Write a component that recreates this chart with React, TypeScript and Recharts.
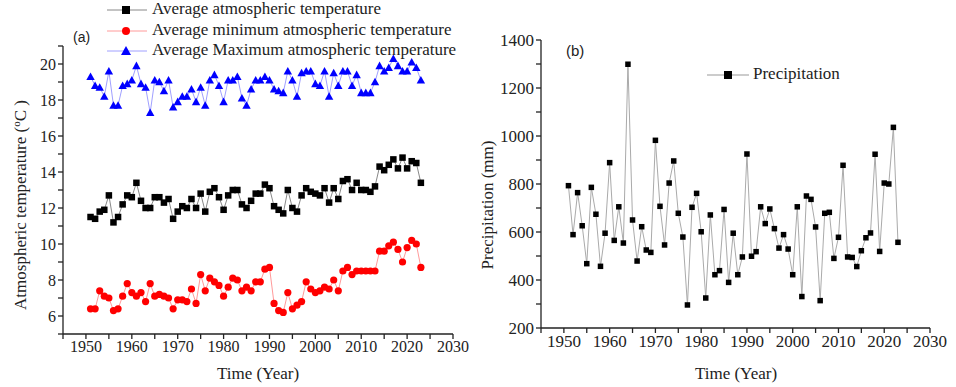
import { LineChart, Line, XAxis, YAxis, Legend, Label } from "recharts";

const YEARS = [
  1951, 1952, 1953, 1954, 1955, 1956, 1957, 1958, 1959, 1960,
  1961, 1962, 1963, 1964, 1965, 1966, 1967, 1968, 1969, 1970,
  1971, 1972, 1973, 1974, 1975, 1976, 1977, 1978, 1979, 1980,
  1981, 1982, 1983, 1984, 1985, 1986, 1987, 1988, 1989, 1990,
  1991, 1992, 1993, 1994, 1995, 1996, 1997, 1998, 1999, 2000,
  2001, 2002, 2003, 2004, 2005, 2006, 2007, 2008, 2009, 2010,
  2011, 2012, 2013, 2014, 2015, 2016, 2017, 2018, 2019, 2020,
  2021, 2022, 2023,
];

const AVG_TEMP = [
  11.5, 11.4, 11.8, 11.9, 12.7, 11.2, 11.5, 12.2, 12.7, 12.6,
  13.4, 12.4, 12.0, 12.0, 12.6, 12.6, 12.3, 12.5, 11.4, 11.8,
  12.1, 12.0, 12.5, 12.0, 12.8, 11.8, 12.9, 13.1, 12.6, 11.9,
  12.7, 13.0, 13.0, 12.2, 12.0, 12.4, 12.8, 12.8, 13.3, 13.1,
  12.1, 11.9, 11.7, 13.0, 12.0, 11.8, 12.7, 13.1, 12.9, 12.8,
  12.7, 13.1, 12.3, 13.1, 12.5, 13.5, 13.6, 13.0, 13.4, 13.0,
  13.0, 12.9, 13.2, 14.3, 14.1, 14.4, 14.7, 14.2, 14.8, 14.2,
  14.6, 14.5, 13.4,
];

const MIN_TEMP = [
  6.4, 6.4, 7.4, 7.1, 7.0, 6.3, 6.4, 7.1, 7.8, 7.3,
  7.1, 7.3, 6.8, 7.8, 7.1, 7.2, 7.1, 7.0, 6.4, 6.9,
  6.9, 6.8, 7.5, 6.7, 8.3, 7.4, 8.1, 7.9, 7.7, 7.1,
  7.6, 8.1, 8.0, 7.4, 7.6, 7.4, 7.9, 7.9, 8.6, 8.7,
  6.7, 6.3, 6.2, 7.3, 6.4, 6.6, 6.8, 7.9, 7.5, 7.3,
  7.4, 7.6, 7.5, 8.0, 7.4, 8.5, 8.7, 8.3, 8.5, 8.5,
  8.5, 8.5, 8.5, 9.6, 9.6, 9.9, 10.1, 9.7, 9.0, 9.8,
  10.2, 10.0, 8.7,
];

const MAX_TEMP = [
  19.3, 18.8, 18.7, 18.2, 19.6, 17.7, 17.7, 18.8, 18.9, 19.1,
  19.9, 18.9, 18.7, 17.3, 19.1, 19.0, 18.5, 19.1, 17.6, 17.9,
  18.2, 18.2, 18.6, 17.9, 18.7, 17.7, 19.1, 19.4, 18.8, 17.9,
  19.1, 19.1, 19.3, 18.1, 17.7, 18.6, 19.1, 19.1, 19.3, 19.1,
  18.6, 18.5, 18.4, 19.6, 19.1, 18.2, 19.5, 19.6, 19.6, 18.9,
  18.8, 19.6, 18.2, 19.5, 18.8, 19.6, 19.6, 18.8, 19.4, 18.4,
  18.4, 18.4, 19.0, 19.9, 19.6, 19.8, 20.3, 19.9, 19.6, 19.6,
  20.1, 19.8, 19.1,
];

const PRECIP = [
  793, 589, 764, 626, 468, 786, 674, 457, 595, 889,
  565, 705, 554, 1299, 650, 479, 622, 525, 515, 982,
  707, 546, 804, 896, 678, 579, 296, 703, 761, 601,
  325, 671, 422, 439, 694, 390, 595, 422, 496, 925,
  499, 518, 705, 635, 696, 614, 533, 589, 529, 422,
  705, 331, 750, 736, 621, 314, 678, 682, 490, 578,
  878, 496, 494, 456, 522, 576, 596, 924, 519, 804,
  800, 1036, 557,
];

const YEAR_TICKS = [1945, 1950, 1955, 1960, 1965, 1970, 1975, 1980, 1985, 1990, 1995, 2000, 2005, 2010, 2015, 2020, 2025, 2030];
const TEMP_TICKS = [5, 6, 7, 8, 9, 10, 11, 12, 13, 14, 15, 16, 17, 18, 19, 20, 21];
const PRECIP_TICKS = [200, 300, 400, 500, 600, 700, 800, 900, 1000, 1100, 1200, 1300, 1400];

const LABEL_AVG = "Average atmospheric temperature";
const LABEL_MIN = "Average minimum atmospheric temperature";
const LABEL_MAX = "Average Maximum atmospheric temperature";
const LABEL_PRECIP = "Precipitation";

const tempData = YEARS.map((year, i) => ({
  year,
  avg: AVG_TEMP[i],
  min: MIN_TEMP[i],
  max: MAX_TEMP[i],
}));

const precipData = YEARS.map((year, i) => ({ year, precip: PRECIP[i] }));

const SERIF = "'Liberation Serif', 'Times New Roman', serif";
const SANS = "'Liberation Sans', Arial, sans-serif";

const squareDot = (size: number) => (props: any) => {
  const { cx, cy, index } = props;
  return <rect key={`sq-${index}`} x={cx - size / 2} y={cy - size / 2} width={size} height={size} fill="#000" />;
};

const circleDot = (props: any) => {
  const { cx, cy, index } = props;
  return <circle key={`ci-${index}`} cx={cx} cy={cy} r={3.6} fill="#ff0000" />;
};

const triangleDot = (props: any) => {
  const { cx, cy, index } = props;
  const s = 4.2;
  return (
    <polygon
      key={`tr-${index}`}
      points={`${cx},${cy - s} ${cx - s},${cy + s * 0.8} ${cx + s},${cy + s * 0.8}`}
      fill="#0000ff"
    />
  );
};

const yearFmt = (v: number) => (v % 10 === 0 ? String(v) : "");
const tempFmt = (v: number) => (v % 2 === 0 ? String(v) : "");
const precipFmt = (v: number) => (v % 200 === 0 ? String(v) : "");

const legendIcon = (kind: string, lineColor: string) => (
  <svg width={40} height={12} style={{ marginRight: 5, verticalAlign: "middle" }}>
    <line x1={0} y1={6} x2={40} y2={6} stroke={lineColor} strokeWidth={1} />
    {kind === "square" && <rect x={15} y={2} width={8} height={8} fill="#000" />}
    {kind === "circle" && <circle cx={19} cy={6} r={4} fill="#ff0000" />}
    {kind === "triangle" && <polygon points="19,1 14,10 24,10" fill="#0000ff" />}
  </svg>
);

const TempLegend = () => (
  <div style={{ fontFamily: SERIF, fontSize: 17, color: "#222", lineHeight: "20.5px" }}>
    <div style={{ whiteSpace: "nowrap" }}>{legendIcon("square", "#888")}{LABEL_AVG}</div>
    <div style={{ whiteSpace: "nowrap" }}>{legendIcon("circle", "#ff9a9a")}{LABEL_MIN}</div>
    <div style={{ whiteSpace: "nowrap" }}>{legendIcon("triangle", "#a0a0ff")}{LABEL_MAX}</div>
  </div>
);

const PrecipLegend = () => (
  <div style={{ fontFamily: SERIF, fontSize: 17, color: "#222", whiteSpace: "nowrap" }}>
    <svg width={42} height={12} style={{ marginRight: 4, verticalAlign: "middle" }}>
      <line x1={0} y1={6} x2={42} y2={6} stroke="#999" strokeWidth={1} />
      <rect x={17} y={2} width={8} height={8} fill="#000" />
    </svg>
    {LABEL_PRECIP}
  </div>
);

const tickStyle = { fill: "#222", fontFamily: SERIF, fontSize: 16 };

export default function App() {
  return (
    <div style={{ position: "absolute", left: 0, top: 0, width: 956, height: 387, background: "#fff" }}>
      <div style={{ position: "absolute", left: 0, top: 0 }}>
        <LineChart width={470} height={387} data={tempData} margin={{ top: 46, right: 17, bottom: 23, left: 0 }}>
          <XAxis
            dataKey="year"
            type="number"
            domain={[1945, 2030]}
            ticks={YEAR_TICKS}
            tickFormatter={yearFmt}
            interval={0}
            tick={tickStyle}
            tickSize={5}
            stroke="#222"
            strokeWidth={1.3}
            height={30}
          >
            <Label
              content={() => (
                <text x={258} y={379} textAnchor="middle" fontFamily={SERIF} fontSize={17} fill="#222">
                  Time (Year)
                </text>
              )}
            />
          </XAxis>
          <YAxis
            type="number"
            domain={[5, 21]}
            ticks={TEMP_TICKS}
            tickFormatter={tempFmt}
            interval={0}
            tick={tickStyle}
            tickSize={5}
            width={63}
            stroke="#222"
            strokeWidth={1.3}
          >
            <Label
              content={() => (
                <text
                  transform="translate(26,205) rotate(-90)"
                  textAnchor="middle"
                  fontFamily={SERIF}
                  fontSize={17}
                  fill="#222"
                >
                  Atmospheric temperature (
                  <tspan dy={-6} fontSize={11}>o</tspan>
                  <tspan dy={6}>C )</tspan>
                </text>
              )}
            />
          </YAxis>
          <Legend
            layout="vertical"
            align="center"
            verticalAlign="middle"
            content={TempLegend}
            wrapperStyle={{ position: "absolute", left: 107, top: -1, width: 360 }}
          />
          <Line dataKey="avg" stroke="#888" strokeWidth={1} dot={squareDot(6.5)} isAnimationActive={false} />
          <Line dataKey="min" stroke="#ff9a9a" strokeWidth={1} dot={circleDot} isAnimationActive={false} />
          <Line dataKey="max" stroke="#a0a0ff" strokeWidth={1} dot={triangleDot} isAnimationActive={false} />
          <text x={73} y={42} fontFamily={SANS} fontSize={14} fill="#222">(a)</text>
        </LineChart>
      </div>
      <div style={{ position: "absolute", left: 478, top: 0 }}>
        <LineChart width={478} height={387} data={precipData} margin={{ top: 40, right: 26, bottom: 29, left: 0 }}>
          <XAxis
            dataKey="year"
            type="number"
            domain={[1945, 2030]}
            ticks={YEAR_TICKS}
            tickFormatter={yearFmt}
            interval={0}
            tick={{ ...tickStyle, fontSize: 17 }}
            tickSize={5}
            stroke="#222"
            strokeWidth={1.3}
            height={30}
          >
            <Label
              content={() => (
                <text x={258} y={379} textAnchor="middle" fontFamily={SERIF} fontSize={17} fill="#222">
                  Time (Year)
                </text>
              )}
            />
          </XAxis>
          <YAxis
            type="number"
            domain={[200, 1400]}
            ticks={PRECIP_TICKS}
            tickFormatter={precipFmt}
            interval={0}
            tick={{ ...tickStyle, fontSize: 17 }}
            tickSize={5}
            width={63}
            stroke="#222"
            strokeWidth={1.3}
          >
            <Label
              content={() => (
                <text
                  transform="translate(15,205) rotate(-90)"
                  textAnchor="middle"
                  fontFamily={SERIF}
                  fontSize={17}
                  fill="#222"
                >
                  Precipitation (mm)
                </text>
              )}
            />
          </YAxis>
          <Legend
            layout="vertical"
            align="center"
            verticalAlign="middle"
            content={PrecipLegend}
            wrapperStyle={{ position: "absolute", left: 229, top: 64, width: 200 }}
          />
          <Line dataKey="precip" stroke="#aaa" strokeWidth={1} dot={squareDot(5.5)} isAnimationActive={false} />
          <text x={88} y={56} fontFamily={SANS} fontSize={15} fill="#222">(b)</text>
        </LineChart>
      </div>
    </div>
  );
}
